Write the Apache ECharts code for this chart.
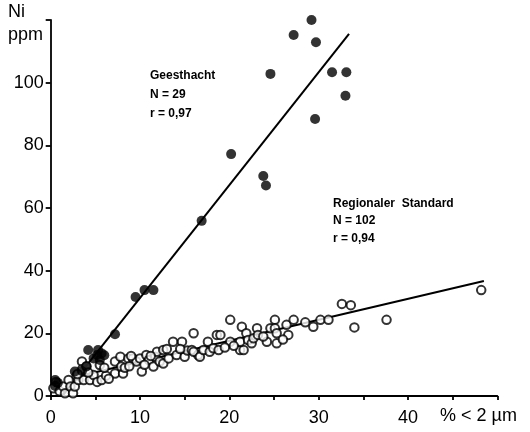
<!DOCTYPE html>
<html>
<head>
<meta charset="utf-8">
<title>Ni vs. Tonanteil</title>
<script src="https://cdn.jsdelivr.net/npm/echarts@6/dist/echarts.min.js"></script>
<style>
  html, body { margin: 0; padding: 0; background: #fff; }
  #chart { width: 530px; height: 432px; }
</style>
</head>
<body>
<div id="chart"></div>
<script>
// Ni (ppm) against clay fraction (% < 2 µm)
// Geesthacht samples (filled dots), N = 29
const geesthacht = [
  [29.2, 120.0], [27.2, 115.2], [29.7, 112.9], [24.6, 102.8], [31.5, 103.3],
  [33.1, 103.3], [33.0, 95.8], [29.6, 88.4], [20.2, 77.2], [23.8, 70.2],
  [24.1, 67.2], [16.9, 55.9], [9.5, 31.6], [10.5, 33.8], [11.5, 33.8],
  [7.2, 19.7], [4.2, 14.7], [5.3, 14.7], [5.7, 13.6], [5.2, 13.1],
  [5.5, 11.5], [4.8, 12.0], [2.7, 7.8], [4.0, 9.4], [0.5, 5.1],
  [0.5, 3.2], [0.8, 4.2], [3.5, 8.0], [6.0, 13.0]
];

// Regional standard samples (open circles), N = 102
const regional = [
  [0.3, 2.5], [0.6, 4.5], [1.0, 1.5], [1.4, 3.0], [1.6, 0.9], [2.0, 5.1],
  [2.2, 3.0], [2.5, 0.9], [2.7, 3.0], [2.9, 6.5], [3.1, 5.1], [3.5, 11.0],
  [3.5, 8.5], [3.7, 5.1], [4.0, 9.5], [4.4, 5.1], [4.8, 6.7], [5.2, 4.5],
  [5.5, 9.9], [5.7, 5.1], [6.2, 6.5],
  [7.2, 7.2], [7.2, 11.0], [7.8, 12.5], [8.1, 7.2], [7.9, 9.4], [8.3, 9.0],
  [8.7, 12.0], [9.2, 12.0], [9.6, 11.0], [10.0, 12.0], [10.2, 7.8], [10.7, 13.1],
  [11.0, 11.5], [11.5, 9.4], [11.7, 12.5], [11.9, 14.1], [12.2, 11.0], [12.6, 14.7],
  [12.6, 10.4], [13.2, 12.0],
  [13.7, 17.3], [14.7, 17.3], [14.1, 13.1], [15.0, 12.5], [15.3, 14.5], [16.0, 20.0],
  [15.8, 14.7], [16.5, 13.1], [16.0, 14.1], [16.7, 12.5], [17.1, 14.7], [17.6, 17.3],
  [17.8, 14.1], [18.2, 15.2], [18.6, 19.5], [19.0, 19.5], [18.8, 14.7], [20.1, 24.3],
  [20.1, 17.3],
  [21.2, 14.7], [21.6, 14.7], [21.2, 17.3], [21.4, 22.1], [21.9, 20.0], [22.1, 17.9],
  [22.5, 16.8], [22.7, 18.4], [23.1, 21.6], [23.2, 19.5], [24.2, 17.3], [24.6, 21.6],
  [25.1, 24.3], [25.1, 21.6], [25.3, 20.0], [25.3, 16.8], [26.4, 22.7], [26.6, 19.5],
  [27.2, 24.3],
  [29.4, 22.1], [30.2, 24.3], [31.1, 24.3], [32.6, 29.4], [33.6, 29.0], [34.0, 21.9],
  [37.6, 24.3], [48.2, 33.8],
  [3.0, 7.0], [4.2, 7.5], [6.0, 9.0], [6.5, 5.5], [8.8, 9.5], [9.0, 12.8],
  [10.5, 10.0], [11.2, 12.8], [13.0, 15.0], [14.5, 15.0], [19.5, 15.5], [20.5, 16.0],
  [23.8, 19.0], [26.0, 18.0], [28.5, 23.5]
];

// Regression lines: [intercept, slope, xStart, xEnd]
const geesthachtFit = [-4.7, 3.6, 1.3, 33.4];
const regionalFit = [4.25, 0.669, 2.5, 48.5];

// Tick values on the axes
const xTicks = [0, 10, 20, 30, 40];
const yTicks = [0, 20, 40, 60, 80, 100];

function fitLine(f) {
  const [a, b, x0, x1] = f;
  return [[x0, a + b * x0], [x1, a + b * x1]];
}

const font = 'Liberation Sans, Arial, sans-serif';
const chart = echarts.init(document.getElementById('chart'), null, { renderer: 'canvas' });

chart.setOption({
  backgroundColor: '#fff',
  animation: false,
  grid: { left: 50.7, right: 32.7, top: 20, bottom: 36 },
  xAxis: {
    type: 'value', min: 0, max: 50, interval: 5, offset: 9,
    axisLine: { lineStyle: { color: '#000', width: 1.8 } },
    axisTick: { length: 4, lineStyle: { color: '#000', width: 1.8 } },
    axisLabel: {
      color: '#000', fontFamily: font, fontSize: 18, margin: 4,
      formatter: v => (xTicks.indexOf(v) >= 0 ? String(v) : '')
    },
    splitLine: { show: false }
  },
  yAxis: {
    type: 'value', min: 0, max: 120, interval: 20, offset: 5,
    axisLine: { show: true, lineStyle: { color: '#000', width: 1.8 } },
    axisTick: { show: true, length: 5, lineStyle: { color: '#000', width: 1.8 } },
    axisLabel: {
      color: '#000', fontFamily: font, fontSize: 18, margin: 2,
      formatter: v => (yTicks.indexOf(v) >= 0 ? String(v) : '')
    },
    splitLine: { show: false }
  },
  graphic: [
    { type: 'text', left: 8, top: 3, style: { text: 'Ni', font: '18px ' + font, fill: '#000' } },
    { type: 'text', left: 8, top: 26, style: { text: 'ppm', font: '18px ' + font, fill: '#000' } },
    { type: 'text', left: 440, top: 407, style: { text: '% < 2 µm', font: '18px ' + font, fill: '#000' } },
    { type: 'text', left: 150, top: 70, style: { text: 'Geesthacht', font: 'bold 12px ' + font, fill: '#000' } },
    { type: 'text', left: 150, top: 89, style: { text: 'N = 29', font: 'bold 12px ' + font, fill: '#000' } },
    { type: 'text', left: 150, top: 108, style: { text: 'r = 0,97', font: 'bold 12px ' + font, fill: '#000' } },
    { type: 'text', left: 333, top: 198, style: { text: 'Regionaler  Standard', font: 'bold 12px ' + font, fill: '#000' } },
    { type: 'text', left: 333, top: 215, style: { text: 'N = 102', font: 'bold 12px ' + font, fill: '#000' } },
    { type: 'text', left: 333, top: 233, style: { text: 'r = 0,94', font: 'bold 12px ' + font, fill: '#000' } }
  ],
  series: [
    {
      type: 'line', data: fitLine(geesthachtFit), symbol: 'none', clip: false,
      lineStyle: { color: '#000', width: 2 }, z: 2
    },
    {
      type: 'line', data: fitLine(regionalFit), symbol: 'none', clip: false,
      lineStyle: { color: '#000', width: 2 }, z: 2
    },
    {
      type: 'scatter', data: regional, symbol: 'circle', symbolSize: 8.5, clip: false,
      itemStyle: { color: '#fff', borderColor: '#000', borderWidth: 2 }, z: 3
    },
    {
      type: 'scatter', data: geesthacht, symbol: 'circle', symbolSize: 10, clip: false,
      itemStyle: { color: '#000' }, z: 4
    }
  ]
});
</script>
</body>
</html>
